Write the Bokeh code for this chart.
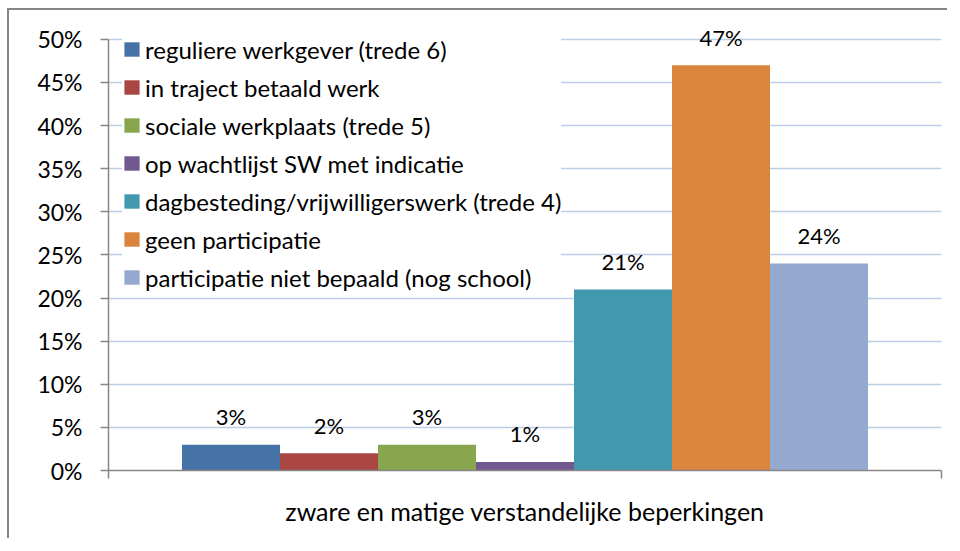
from bokeh.plotting import figure
from bokeh.models import ColumnDataSource, Range1d, FixedTicker, NumeralTickFormatter, CustomJSTickFormatter
from bokeh.embed import file_html
from bokeh.resources import INLINE
from bokeh.core.properties import value

# ---- data ----
category = "zware en matige verstandelijke beperkingen"
series = [
    "reguliere werkgever (trede 6)",
    "in traject betaald werk",
    "sociale werkplaats (trede 5)",
    "op wachtlijst SW met indicatie",
    "dagbesteding/vrijwilligerswerk (trede 4)",
    "geen participatie",
    "participatie niet bepaald (nog school)",
]
values = [0.03, 0.02, 0.03, 0.01, 0.21, 0.47, 0.24]
colors = ["#4572A7", "#AA4643", "#89A54E", "#71588F", "#4198AF", "#DB843D", "#93A9CF"]
y_ticks = [0.0, 0.05, 0.10, 0.15, 0.20, 0.25, 0.30, 0.35, 0.40, 0.45, 0.50]
y_axis_max = 0.50
y_view_max = 0.53  # headroom so the 47% label is not clipped

FONT = "Lato"
FS_TICK = "23px"
FS_LBL = "22px"
FS_LEG = "24px"
FS_BIG = "25px"

gap = 1.5  # Excel gap width (in bar widths)
n = len(series)
x_end = n + gap
xs = [gap / 2 + 0.5 + i for i in range(n)]
labels = [f"{round(v * 100)}%" for v in values]

src = ColumnDataSource(dict(x=xs, top=values, series=series, color=colors, label=labels))

p = figure(
    width=940, height=530,
    x_range=Range1d(0, x_end), y_range=Range1d(0, y_view_max),
    toolbar_location=None, output_backend="svg",
    min_border_left=99, min_border_top=3, min_border_right=8, min_border_bottom=70,
    outline_line_color=None,
)
p.styles = {
    "margin-left": "7px", "margin-top": "8px",
    "border-top": "2px solid #868686", "border-left": "2px solid #868686",
}

p.vbar(x="x", top="top", width=1.0, fill_color="color", line_color=None, source=src,
       legend_field="series")

p.text(x="x", y="top", text="label", source=src, text_align="center",
       text_baseline="alphabetic", y_offset=-28, text_font=value(FONT),
       text_font_size=FS_LBL, text_color="#000000")

# grid
p.xgrid.visible = False
p.ygrid.ticker = FixedTicker(ticks=y_ticks)
p.ygrid.grid_line_color = "#BCCFE8"
p.ygrid.grid_line_width = 1.5

# y axis
ya = p.yaxis[0]
ya.bounds = (0, y_axis_max)
ya.ticker = FixedTicker(ticks=y_ticks)
ya.formatter = NumeralTickFormatter(format="0%")
ya.axis_line_color = "#868686"
ya.axis_line_width = 1.5
ya.major_tick_line_color = "#868686"
ya.major_tick_line_width = 1.5
ya.major_tick_out = 8
ya.major_tick_in = 0
ya.minor_tick_line_color = None
ya.major_label_text_font = FONT
ya.major_label_text_font_size = FS_TICK
ya.major_label_text_color = "#000000"
ya.major_label_standoff = 18

# x axis
xa = p.xaxis[0]
xa.ticker = FixedTicker(ticks=[0, x_end])
xa.formatter = CustomJSTickFormatter(code="return ''")
xa.axis_line_color = "#868686"
xa.axis_line_width = 1.5
xa.major_tick_line_color = "#868686"
xa.major_tick_line_width = 1.5
xa.major_tick_out = 8
xa.major_tick_in = 0
xa.minor_tick_line_color = None
xa.axis_label = category
xa.axis_label_text_font = FONT
xa.axis_label_text_font_size = FS_BIG
xa.axis_label_text_font_style = "normal"
xa.axis_label_text_color = "#000000"
xa.axis_label_standoff = 17

# legend
lg = p.legend[0]
lg.location = (14, 178)
lg.padding = 5
lg.margin = 0
lg.spacing = 8
lg.label_height = 30
lg.glyph_height = 18
lg.glyph_width = 19
lg.label_standoff = 4
lg.label_width = 410
lg.label_text_font = FONT
lg.label_text_font_size = FS_LEG
lg.label_text_color = "#000000"
lg.background_fill_color = "white"
lg.background_fill_alpha = 1.0
lg.border_line_color = None

open("out.html", "w").write(file_html(p, INLINE))
